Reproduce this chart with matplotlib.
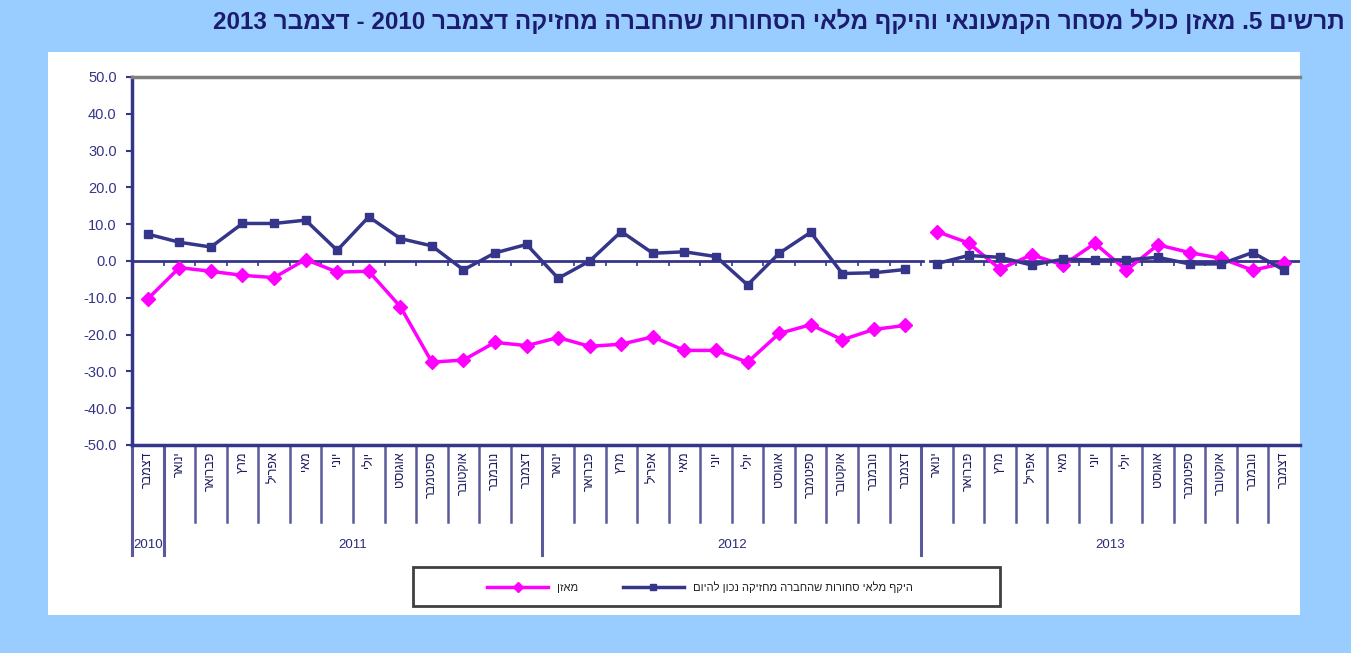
import re
import numpy as np
import matplotlib
matplotlib.use("Agg")
import matplotlib.pyplot as plt
from matplotlib.patches import Rectangle
from matplotlib.lines import Line2D
import matplotlib.transforms as mtransforms

plt.rcParams['font.family'] = ['Liberation Sans', 'DejaVu Sans']

# --- data (Dec 2010 .. Dec 2013) ---
months = ['דצמבר',
          'ינואר', 'פברואר', 'מרץ', 'אפריל', 'מאי', 'יוני', 'יולי', 'אוגוסט', 'ספטמבר', 'אוקטובר', 'נובמבר', 'דצמבר',
          'ינואר', 'פברואר', 'מרץ', 'אפריל', 'מאי', 'יוני', 'יולי', 'אוגוסט', 'ספטמבר', 'אוקטובר', 'נובמבר', 'דצמבר',
          'ינואר', 'פברואר', 'מרץ', 'אפריל', 'מאי', 'יוני', 'יולי', 'אוגוסט', 'ספטמבר', 'אוקטובר', 'נובמבר', 'דצמבר']
years = ['2010', '2011', '2012', '2013']
year_sizes = [1, 12, 12, 12]

inventory = [7.3, 5.1, 3.8, 10.2, 10.2, 11.1, 2.9, 12.0, 6.1, 4.1, -2.4, 2.2, 4.5,
             -4.7, 0.0, 8.0, 2.1, 2.5, 1.2, -6.5, 2.1, 7.8, -3.4, -3.2, -2.3,
             -0.7, 1.5, 1.0, -1.1, 0.5, 0.3, 0.3, 1.0, -0.8, -0.8, 2.3, -2.5]
balance = [-10.3, -1.8, -2.8, -3.9, -4.5, 0.4, -3.0, -2.8, -12.4, -27.5, -26.9, -22.1, -23.0,
           -20.8, -23.2, -22.6, -20.6, -24.3, -24.3, -27.5, -19.7, -17.3, -21.4, -18.6, -17.5,
           8.0, 4.9, -2.2, 1.7, -1.1, 4.8, -2.5, 4.4, 2.3, 0.7, -2.5, -0.6]

title = 'תרשים 5. מאזן כולל מסחר הקמעונאי והיקף מלאי הסחורות שהחברה מחזיקה דצמבר 2010 - דצמבר 2013'
label_inv = 'היקף מלאי סחורות שהחברה מחזיקה נכון להיום'
label_bal = 'מאזן'


def vis(s):
    # matplotlib has no bidi: reverse to visual order, keep digit runs LTR
    return re.sub(r'\d+', lambda m: m.group()[::-1], s[::-1])


NAVY = '#35358a'
MAGENTA = '#ff00ff'
BG = '#99ccff'
W, H = 1351, 653

fig = plt.figure(figsize=(W / 100, H / 100), dpi=100, facecolor=BG)
fig.patches.append(Rectangle((48 / W, 1 - 615 / H), (1300 - 48) / W, (615 - 52) / H,
                             transform=fig.transFigure, facecolor='white', edgecolor='none', zorder=-5))

fig.text(1345 / W, 1 - 21 / H, vis(title), ha='right', va='center', fontsize=17.5,
         fontweight='bold', color='#1c1c6e')

ax = fig.add_axes([132 / W, 1 - 445 / H, (1300 - 132) / W, (445 - 77) / H])
ax.set_facecolor('none')

n = len(months)
x = np.arange(n) + 0.5
split = sum(year_sizes[:3])  # series break between Dec 2012 and Jan 2013

l_bal, = ax.plot(x[:split], balance[:split], color=MAGENTA, lw=2.5, marker='D', ms=7.5, zorder=4)
ax.plot(x[split:], balance[split:], color=MAGENTA, lw=2.5, marker='D', ms=7.5, zorder=4)
l_inv, = ax.plot(x[:split], inventory[:split], color=NAVY, lw=2.5, marker='s', ms=5.5, zorder=5)
ax.plot(x[split:], inventory[split:], color=NAVY, lw=2.5, marker='s', ms=5.5, zorder=5)

ax.set_xlim(0, n)
ax.set_ylim(-50, 50)
ax.set_yticks(np.arange(-50, 51, 10))
ax.set_yticklabels(['%.1f' % v for v in np.arange(-50, 51, 10)])
ax.tick_params(axis='y', colors=NAVY, labelsize=10.5, length=4, width=1.5, pad=7, direction='out')
ax.set_xticks([])

# zero line with small ticks (small gap where the chart was joined)
ax.axhline(0, xmin=0, xmax=(923 - 132) / (1300 - 132), color=NAVY, lw=2, zorder=3)
ax.axhline(0, xmin=(930 - 132) / (1300 - 132), xmax=1, color=NAVY, lw=2, zorder=3)
ax.vlines(np.arange(1, n), -1.3, 0, color=NAVY, lw=1.2, zorder=3)

for s in ['left', 'bottom']:
    ax.spines[s].set_color(NAVY)
    ax.spines[s].set_linewidth(2.5)
ax.spines['top'].set_color('#808080')
ax.spines['top'].set_linewidth(2.5)
ax.spines['right'].set_visible(False)

# multi-level category labels below the plot
trans = mtransforms.blended_transform_factory(ax.transData, ax.transAxes)
for i, m in enumerate(months):
    ax.text(x[i], -0.018, vis(m), transform=trans, rotation=90, ha='center', va='top',
            fontsize=9, color='#1c1c5e')
bounds = np.cumsum([0] + year_sizes)
for k in range(1, n):
    if k not in bounds:
        ax.add_line(Line2D([k, k], [0, -0.209], transform=trans, color='#5a5a9a', lw=1.8, clip_on=False))
for k in bounds[:-1]:
    ax.add_line(Line2D([k, k], [0, -0.30], transform=trans, color='#5a5a9a', lw=2.2, clip_on=False))
for j, yr in enumerate(years):
    ax.text((bounds[j] + bounds[j + 1]) / 2, -0.272, yr, transform=trans, ha='center', va='center',
            fontsize=9.5, color='#2a2a7a')

# legend
fig.patches.append(Rectangle((413 / W, 1 - 606 / H), 587 / W, 39 / H, transform=fig.transFigure,
                             facecolor='white', edgecolor='#404040', lw=2, zorder=1))
fig.legend([l_bal, l_inv], [vis(label_bal), vis(label_inv)], ncol=2, frameon=False,
           loc='center', bbox_to_anchor=(700 / W, 1 - 587 / H), fontsize=8,
           handlelength=5.5, handletextpad=0.8, columnspacing=4, markerscale=0.7,
           labelcolor='#202020')

fig.savefig('out.png', dpi=100, facecolor=BG)
